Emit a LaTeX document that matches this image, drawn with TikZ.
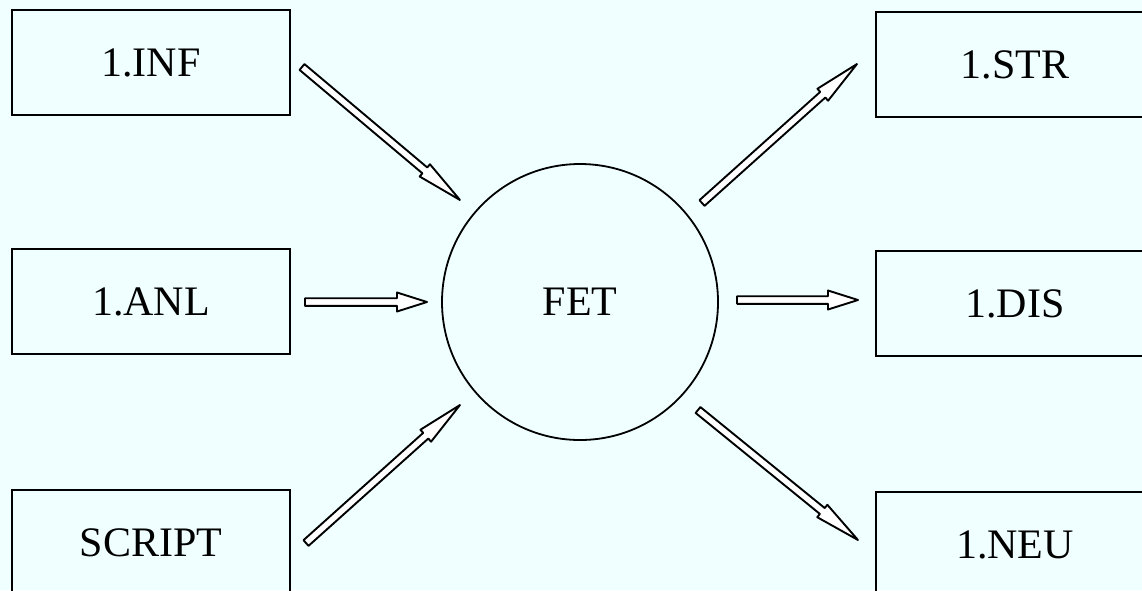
\documentclass[tikz,border=0pt]{standalone}
\usepackage{fontspec}
\setmainfont{Liberation Serif}
\usetikzlibrary{calc}
\definecolor{bgc}{RGB}{240,255,255}
\tikzset{
  box/.style={draw, line width=1.8pt, minimum width=278pt, minimum height=105pt, inner sep=0pt, font=\fontsize{42}{46}\selectfont},
  circ/.style={draw, circle, line width=1.8pt, minimum size=276pt, inner sep=0pt, font=\fontsize{42}{46}\selectfont},
  barrowstyle/.style={draw, line width=1.9pt, line join=round, fill=white}
}
% #1 tail, #2 tip, #3 head length, #4 head half width
\newcommand\blockarrow[4]{%
  \draw[barrowstyle]
    ($(#1)!3.8pt!90:(#2)$) --
    ($(#2)!#3!(#1)!3.8pt!-90:(#1)$) --
    ($(#2)!#3!(#1)!#4!-90:(#1)$) --
    (#2) --
    ($(#2)!#3!(#1)!#4!90:(#1)$) --
    ($(#2)!#3!(#1)!3.8pt!90:(#1)$) --
    ($(#1)!3.8pt!-90:(#2)$) -- cycle;}
\begin{document}
\begin{tikzpicture}[x=1pt,y=-1pt]
\fill[bgc] (0,0) rectangle (1142,590);
\useasboundingbox (0,0) rectangle (1142,590);
\clip (0,0) rectangle (1142,590);
\node[box] (inf) at (151,62.5) {1.INF};
\node[box] (anl) at (151,301.5) {1.ANL};
\node[box] (scr) at (151,542.5) {SCRIPT};
\node[box] (str) at (1015,64.5) {1.STR};
\node[box] (dis) at (1015,303.5) {1.DIS};
\node[box] (neu) at (1015,544.5) {1.NEU};
\node[circ] (fet) at (580,302) {FET};
\coordinate (t1) at (302,67);  \coordinate (h1) at (460,200);
\coordinate (t2) at (305,302); \coordinate (h2) at (427,302);
\coordinate (t3) at (306,543); \coordinate (h3) at (460,405);
\coordinate (t4) at (702,203); \coordinate (h4) at (857,64);
\coordinate (t5) at (737,300); \coordinate (h5) at (858,300);
\coordinate (t6) at (698,410); \coordinate (h6) at (858,540);
\blockarrow{t1}{h1}{46pt}{8pt}
\blockarrow{t2}{h2}{30pt}{9.5pt}
\blockarrow{t3}{h3}{46pt}{8pt}
\blockarrow{t4}{h4}{46pt}{8pt}
\blockarrow{t5}{h5}{30pt}{9.5pt}
\blockarrow{t6}{h6}{46pt}{8pt}
\end{tikzpicture}
\end{document}
